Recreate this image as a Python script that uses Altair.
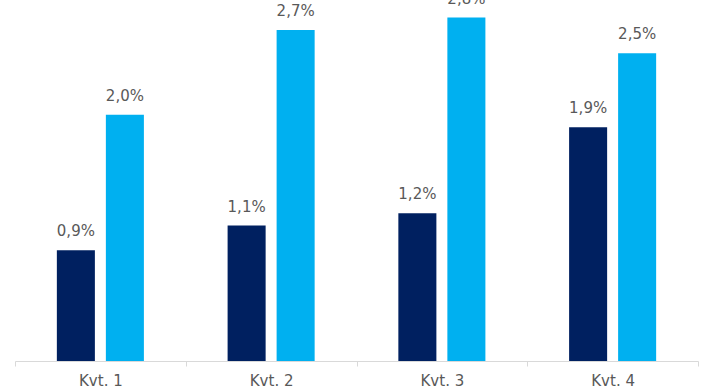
import altair as alt
import pandas as pd

quarters = ["Kvt. 1", "Kvt. 2", "Kvt. 3", "Kvt. 4"]
series_names = ["Serie A", "Serie B"]
series_a = [0.90, 1.10, 1.20, 1.90]
series_b = [2.00, 2.69, 2.79, 2.50]
colors = ["#002060", "#00B0F0"]

rows = []
for q, a, b in zip(quarters, series_a, series_b):
    rows.append({"quarter": q, "series": series_names[0], "value": a})
    rows.append({"quarter": q, "series": series_names[1], "value": b})
df = pd.DataFrame(rows)

x_enc = alt.X(
    "quarter:N",
    sort=quarters,
    title=None,
    scale=alt.Scale(paddingInner=0, paddingOuter=0),
    axis=alt.Axis(
        labelAngle=0,
        labelFont="DejaVu Sans",
        labelFontSize=15,
        labelColor="#595959",
        domainColor="#D9D9D9",
        domainWidth=1,
        tickColor="#D9D9D9",
        tickSize=5,
        tickBand="extent",
        labelPadding=7,
    ),
)
xoff = alt.XOffset(
    "series:N",
    sort=series_names,
    scale=alt.Scale(paddingInner=0.224, paddingOuter=0.854),
)
y_enc = alt.Y(
    "value:Q",
    scale=alt.Scale(domain=[0, 2.933], nice=False, zero=True),
    axis=None,
)

base = alt.Chart(df).encode(x=x_enc, xOffset=xoff, y=y_enc)

bars = base.mark_bar().encode(
    color=alt.Color(
        "series:N",
        sort=series_names,
        scale=alt.Scale(domain=series_names, range=colors),
        legend=None,
    )
)

labels = base.transform_calculate(
    label="replace(format(datum.value, '.1f'), '.', ',') + '%'"
).mark_text(
    baseline="alphabetic",
    align="center",
    dy=-14,
    font="DejaVu Sans",
    fontSize=15,
    color="#595959",
).encode(text="label:N")

chart = (
    alt.layer(bars, labels)
    .properties(
        width=683,
        height=361,
        autosize=alt.AutoSizeParams(type="none"),
        padding={"left": 15, "top": 0, "right": 7, "bottom": 31},
        background="white",
    )
    .configure_view(stroke=None)
)

chart.save("out.html", embed_options={"renderer": "svg", "actions": False})
